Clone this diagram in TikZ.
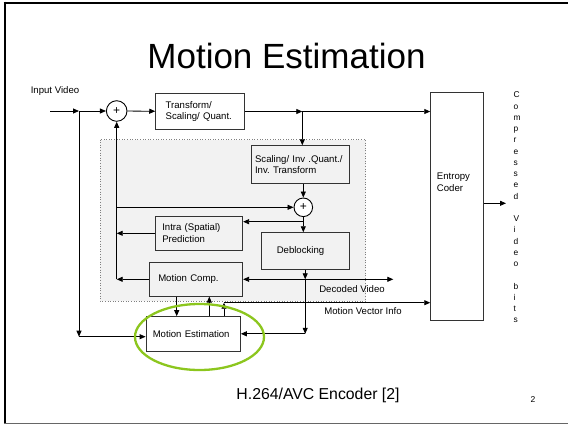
\documentclass[tikz,border=0pt]{standalone}
\usepackage{fontspec}
\setmainfont{Liberation Sans}
\usetikzlibrary{arrows.meta}
\definecolor{ellcol}{RGB}{140,198,30}
\frenchspacing
\begin{document}
\begin{tikzpicture}[x=1pt,y=-1pt,
 arr/.style={-{Triangle[length=6pt,width=5pt]}, line width=0.8pt},
 arrboth/.style={{Triangle[length=6pt,width=5pt]}-{Triangle[length=6pt,width=5pt]}, line width=0.8pt},
 blk/.style={draw=black!80, line width=0.9pt, rectangle, inner ysep=0pt, align=left, font=\fontsize{9.6}{11.5}\selectfont},
 sumc/.style={draw, circle, line width=0.9pt, minimum size=20.6pt, inner sep=0pt, fill=white, font=\fontsize{12}{12}\selectfont},
 lbl/.style={font=\fontsize{9.6}{11.5}\selectfont, inner sep=0pt}]
\useasboundingbox (0,0) rectangle (568,426);
% frame
\draw[line width=2pt] (3.5,2.7) -- (568,2.7);
\draw[line width=2pt] (4.5,1.7) -- (4.5,424);
\draw[black!60, line width=1.2pt] (4,423.6) -- (568,423.6);
% title
\node[font=\fontsize{35}{40}\selectfont, anchor=base] (title) at (286.5,68) {Motion Estimation};
% grey region
\fill[gray!10] (100,139.5) rectangle (365.7,301);
\draw[gray, dotted, line width=0.6pt] (100,139.5) rectangle (365.7,301);
% nodes
\coordinate (in0) at (50,111);
\coordinate (j1) at (79,111);
\node[sumc] (c1) at (116.7,111) {+};
\node[blk, text width=68.6pt, inner xsep=10pt, minimum height=36pt, fill=white] (tq) at (200,111.5) {Transform/\\Scaling/ Quant.};
\coordinate (j3) at (302.3,111.5);
\node[blk, minimum width=52.6pt, minimum height=227.7pt, fill=white] (ec) at (457,206.2) {};
\node[lbl, anchor=west, align=left] (ect) at (436.7,182.2) {Entropy\\Coder};
\node[blk, text width=90.3pt, inner xsep=4pt, minimum height=37.6pt] (sc) at (300.2,164.5) {Scaling/ Inv .Quant./\\Inv. Transform};
\node[sumc, minimum size=18.6pt] (c2) at (303.3,207.3) {+};
\node[blk, text width=73.1pt, inner xsep=7.3pt, minimum height=34.7pt] (intra) at (198.8,233.3) {Intra (Spatial)\\Prediction};
\node[blk, text width=56.9pt, inner xsep=15.7pt, minimum height=36.6pt] (deb) at (305.2,251) {Deblocking};
\node[blk, text width=75.1pt, inner xsep=9.3pt, minimum height=33.7pt] (mc) at (195.8,279.3) {Motion Comp.};
\node[blk, text width=80.9pt, inner xsep=6.7pt, minimum height=34.3pt, fill=white] (me) at (193.2,333.8) {Motion Estimation};
% labels
\node[lbl] (lin) at (55,91) {Input Video};
\node[lbl] (ldv) at (352,289.5) {Decoded Video};
\node[lbl] (lmv) at (363,311) {Motion Vector Info};
\node[font=\fontsize{8.4}{11.25}\selectfont, align=left, anchor=north west, inner sep=0pt] (cvb) at (513.3,91.7) {C\\o\\m\\p\\r\\e\\s\\s\\e\\d\\[11.25pt]V\\i\\d\\e\\o\\[11.25pt]b\\i\\t\\s};
% connectors
\draw[arr] (in0) -- (j1);
\draw[arr] (j1) -- (c1.west);
\coordinate (j2) at (79,336.7);
\draw[arr] (j1) -- (j2);
\draw[arr] (j2) -- (me.west |- j2);
\draw[arr] (c1) -- (tq);
\draw[arr] (tq.east) -- (j3);
\draw[arr] (j3) -- (ec.west |- j3);
\draw[arr] (j3) -- (j3 |- sc.north);
\draw[arr] (sc.south -| c2) -- (c2.north);
\coordinate (j4) at (303.3,221.7);
\draw[arr] (c2.south) -- (c2 |- deb.north);
\draw[arr] (j4) -- (intra.east |- j4);
\coordinate (j5) at (116.7,279.3);
\draw[arr] (j5) -- (c1.south);
\draw[arr] (c1 |- c2) -- (c2.west);
\draw[arr] (intra.west) -- (c1 |- intra.west);
\draw[arr] (mc.west) -- (j5);
\coordinate (dv) at (393.3,279.3);
\coordinate (j6) at (deb.south |- mc.east);
\draw[arr] (deb.south) -- (j6);
\draw[arrboth] (mc.east) -- (dv);
\coordinate (j7) at (j6 |- me.east);
\draw[arr] (j6) -- (j7);
\draw[arr] (j7) -- (me.east);
\draw[arr] ([xshift=-19.1pt]mc.south) -- ([xshift=-19.1pt]mc.south |- me.north);
\draw[arr] ([xshift=16.1pt]me.north) -- ([xshift=16.1pt]me.north |- mc.south);
\coordinate (j8) at (224,302.7);
\draw[arr] (j8 |- me.north) -- (j8);
\draw[arr] (j8) -- (ec.west |- j8);
\coordinate (out) at (506,203.3);
\draw[arr] (ec.east |- out) -- (out);
% ellipse
\draw[ellcol, line width=2.3pt] (199.5,337) ellipse [x radius=64.5pt, y radius=33pt];
% caption
\node[font=\fontsize{15.8}{18}\selectfont, anchor=base] (cap) at (318,399) {H.264/AVC Encoder [2]};
\node[font=\fontsize{8.5}{10}\selectfont, anchor=base] (pg) at (533,402.7) {2};
\end{tikzpicture}
\end{document}
